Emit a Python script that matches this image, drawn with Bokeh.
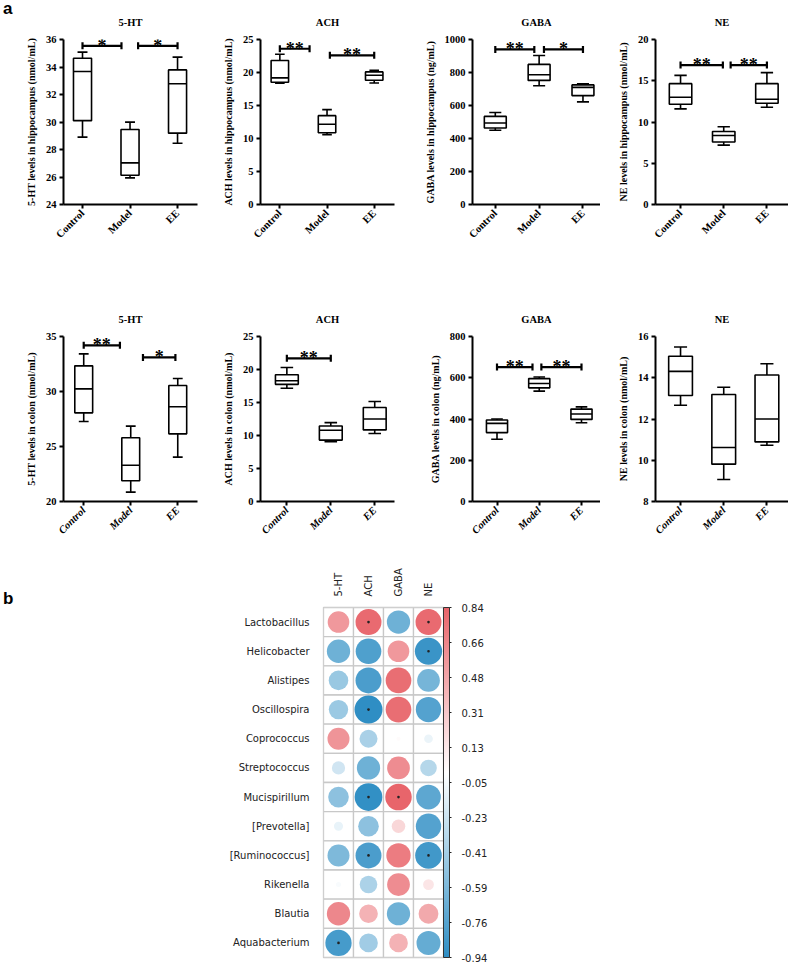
import math
import numpy as np
from bokeh.plotting import figure
from bokeh.models import (Range1d, FixedTicker, ColumnDataSource, FactorRange, Div,
                          LinearColorMapper, ColorBar, CustomJSTickFormatter)
from bokeh.layouts import row, column
from bokeh.core.properties import value
from bokeh.embed import file_html
from bokeh.resources import INLINE

# ---------------- data: box plots (min, q1, median, q3, max) ----------------
groups = ["Control", "Model", "EE"]

hip_5ht = [(28.9, 30.1, 33.67, 34.64, 35.08), (25.94, 26.13, 27.03, 29.45, 29.99), (28.46, 29.19, 32.78, 33.79, 34.72)]
hip_ach = [(18.37, 18.52, 19.18, 21.81, 22.77), (10.58, 10.88, 12.15, 13.46, 14.37), (18.42, 18.83, 19.58, 20.09, 20.34)]
hip_gaba = [(450, 464, 494, 534, 558), (720, 752, 786, 849, 903), (622, 660, 710, 725, 732)]
hip_ne = [(11.59, 12.15, 13.0, 14.65, 15.65), (7.2, 7.57, 8.37, 8.85, 9.42), (11.79, 12.27, 12.76, 14.65, 15.98)]

col_5ht = [(27.27, 28.06, 30.24, 32.33, 33.42), (20.85, 21.88, 23.3, 25.79, 26.85), (24.03, 26.15, 28.61, 30.55, 31.18)]
col_ach = [(17.15, 17.75, 18.3, 19.2, 20.3), (9.05, 9.3, 10.8, 11.45, 11.95), (10.3, 10.85, 12.5, 14.25, 15.15)]
col_gaba = [(302, 334, 379, 395, 400), (535, 551, 572, 596, 604), (382, 398, 424, 448, 459)]
col_ne = [(12.67, 13.14, 14.31, 15.04, 15.49), (9.07, 9.81, 10.62, 13.19, 13.54), (10.73, 10.89, 12.0, 14.13, 14.68)]

# significance brackets: (from group pos, to group pos, level, label)
hip_5ht_sig = [(1, 1.82, 35.54, "*"), (2.17, 3, 35.54, "*")]
hip_ach_sig = [(1, 1.63, 23.6, "**"), (2.06, 3, 22.6, "**")]
hip_gaba_sig = [(1, 1.89, 940, "**"), (2.11, 3, 940, "*")]
hip_ne_sig = [(1, 1.98, 16.9, "**"), (2.16, 3, 16.9, "**")]
col_5ht_sig = [(1, 1.77, 34.2, "**"), (2.26, 2.95, 33.1, "*")]
col_ach_sig = [(1, 2.0, 21.7, "**")]
col_gaba_sig = [(1, 1.84, 652, "**"), (2.05, 3.0, 652, "**")]
col_ne_sig = []

hip_titles = ["5-HT", "ACH", "GABA", "NE"]
hip_ylabels = ["5-HT levels in hippocampus (nmol/mL)", "ACH levels in hippocampus (nmol/mL)",
               "GABA levels in hippocampus (ng/mL)", "NE levels in hippocampus (nmol/mL)"]
col_ylabels = ["5-HT levels in colon (nmol/mL)", "ACH levels in colon (nmol/mL)",
               "GABA levels in colon (ng/mL)", "NE levels in colon (nmol/mL)"]
hip_yranges = [(24, 36), (0, 25), (0, 1000), (0, 20)]
hip_yticks = [[24, 26, 28, 30, 32, 34, 36], [0, 5, 10, 15, 20, 25], [0, 200, 400, 600, 800, 1000], [0, 5, 10, 15, 20]]
col_yranges = [(20, 35), (0, 25), (0, 800), (8, 16)]
col_yticks = [[20, 25, 30, 35], [0, 5, 10, 15, 20, 25], [0, 200, 400, 600, 800], [8, 10, 12, 14, 16]]

# ---------------- data: correlation heat map ----------------
hm_rows = ["Lactobacillus", "Helicobacter", "Alistipes", "Oscillospira", "Coprococcus", "Streptococcus",
           "Mucispirillum", "[Prevotella]", "[Ruminococcus]", "Rikenella", "Blautia", "Aquabacterium"]
hm_cols = ["5-HT", "ACH", "GABA", "NE"]
r_5ht = [0.56, -0.65, -0.46, -0.45, 0.58, -0.21, -0.51, -0.10, -0.58, -0.03, 0.65, -0.83]
r_ach = [0.81, -0.79, -0.81, -0.94, -0.39, -0.65, -0.92, -0.51, -0.81, -0.37, 0.42, -0.42]
r_gaba = [-0.65, 0.56, 0.79, 0.79, 0.02, 0.62, 0.84, 0.22, 0.71, 0.62, -0.65, 0.42]
r_ne = [0.81, -0.89, -0.62, -0.77, -0.09, -0.33, -0.73, -0.77, -0.85, 0.14, 0.47, -0.69]
p_5ht = [0, 0, 0, 0, 0, 0, 0, 0, 0, 0, 0, 1]
p_ach = [1, 0, 0, 1, 0, 0, 1, 0, 1, 0, 0, 0]
p_gaba = [0, 0, 0, 0, 0, 0, 1, 0, 0, 0, 0, 0]
p_ne = [1, 1, 0, 0, 0, 0, 0, 0, 1, 0, 0, 0]
cb_labels = ["-0.94", "-0.76", "-0.59", "-0.41", "-0.23", "-0.05", "0.13", "0.31", "0.48", "0.66", "0.84"]

# ---------------- layout constants ----------------
SERIF = "Liberation Serif"
SANS = "DejaVu Sans"
FH = 165
LETTER_W = 14
TOP_BT, TOP_BB = 39, 96
BOT_BT, BOT_BB = 36, 56
HM_BT, HM_BB = 50, 10
frame_w = [134, 134, 128, 133]
b_left = [49, 55, 55, 55]
b_right = [8, 23, 0, 0]
hip_xr = [(0.6, 3.42), (0.59, 3.43), (0.48, 3.4), (0.42, 3.5)]
col_xr = [(0.57, 3.42), (0.4, 3.45), (0.42, 3.45), (0.42, 3.5)]
hip_bw = [0.38, 0.37, 0.5, 0.52]
col_bw = [0.38, 0.52, 0.5, 0.55]


def box_panel(title, ylabel, stats, sig, yr, yticks, xr, bw, i, bt, bb, italic):
    p = figure(frame_width=frame_w[i], frame_height=FH, x_range=Range1d(*xr), y_range=Range1d(*yr),
               output_backend="svg", toolbar_location=None, title=title,
               min_border_left=b_left[i], min_border_right=b_right[i],
               min_border_top=bt, min_border_bottom=bb)
    xs = [k + 1 for k in range(len(groups))]
    mins = [s[0] for s in stats]
    q1 = [s[1] for s in stats]
    med = [s[2] for s in stats]
    q3 = [s[3] for s in stats]
    mx = [s[4] for s in stats]
    cw = bw * 0.55
    lw = 1.6
    p.segment(x0=xs, y0=q3, x1=xs, y1=mx, line_color="black", line_width=lw)
    p.segment(x0=xs, y0=q1, x1=xs, y1=mins, line_color="black", line_width=lw)
    p.segment(x0=[x - cw / 2 for x in xs], y0=mx, x1=[x + cw / 2 for x in xs], y1=mx, line_color="black", line_width=lw)
    p.segment(x0=[x - cw / 2 for x in xs], y0=mins, x1=[x + cw / 2 for x in xs], y1=mins, line_color="black", line_width=lw)
    p.vbar(x=xs, width=bw, bottom=q1, top=q3, fill_color="white", line_color="black", line_width=lw)
    p.segment(x0=[x - bw / 2 for x in xs], y0=med, x1=[x + bw / 2 for x in xs], y1=med, line_color="black", line_width=lw)
    if sig:
        a = [s[0] for s in sig]
        b = [s[1] for s in sig]
        y = [s[2] for s in sig]
        t = [s[3] for s in sig]
        p.segment(x0=a, y0=y, x1=b, y1=y, line_color="black", line_width=2.2)
        p.scatter(x=a + b, y=y + y, marker="dash", angle=math.pi / 2, size=7, line_color="black", line_width=2.2)
        p.text(x=[(u + v) / 2 for u, v in zip(a, b)], y=y, text=t, text_align="center", text_baseline="alphabetic",
               text_font=value(SERIF), text_font_style="bold", text_font_size="18px", text_color="black")
    for ax in (p.xaxis[0], p.yaxis[0]):
        ax.axis_line_width = 2
        ax.axis_line_color = "black"
        ax.major_tick_line_width = 2
        ax.major_tick_line_color = "black"
        ax.major_tick_in = 0
        ax.major_tick_out = 4
        ax.minor_tick_line_color = None
        ax.major_label_text_font = SERIF
        ax.major_label_text_font_style = "bold"
        ax.major_label_text_font_size = "10.5px"
        ax.major_label_text_color = "black"
        ax.major_label_standoff = 3
    p.xaxis.ticker = FixedTicker(ticks=xs)
    p.xaxis.major_label_overrides = {x: g for x, g in zip(xs, groups)}
    p.xaxis.major_label_orientation = math.pi / 4
    if italic:
        p.xaxis.major_label_text_font_style = "bold italic"
    p.yaxis.ticker = FixedTicker(ticks=yticks)
    p.yaxis.axis_label = ylabel
    p.yaxis.axis_label_text_font = SERIF
    p.yaxis.axis_label_text_font_style = "bold"
    p.yaxis.axis_label_text_font_size = "10px"
    p.yaxis.axis_label_text_color = "black"
    p.yaxis.axis_label_standoff = 6
    p.xgrid.grid_line_color = None
    p.ygrid.grid_line_color = None
    p.outline_line_color = None
    p.title.align = "center"
    p.title.text_font = SERIF
    p.title.text_font_size = "10.5px"
    p.title.text_font_style = "bold"
    p.title.text_color = "black"
    p.title.standoff = 23
    return p


hip_data = [hip_5ht, hip_ach, hip_gaba, hip_ne]
hip_sigs = [hip_5ht_sig, hip_ach_sig, hip_gaba_sig, hip_ne_sig]
col_data = [col_5ht, col_ach, col_gaba, col_ne]
col_sigs = [col_5ht_sig, col_ach_sig, col_gaba_sig, col_ne_sig]

top = [box_panel(hip_titles[i], hip_ylabels[i], hip_data[i], hip_sigs[i], hip_yranges[i], hip_yticks[i],
                 hip_xr[i], hip_bw[i], i, TOP_BT, TOP_BB, False) for i in range(4)]
bot = [box_panel(hip_titles[i], col_ylabels[i], col_data[i], col_sigs[i], col_yranges[i], col_yticks[i],
                 col_xr[i], col_bw[i], i, BOT_BT, BOT_BB, True) for i in range(4)]


def letter_div(txt, h, top_px):
    return Div(text=f'<div style="margin-top:{top_px}px;margin-left:3px;font-family:\'Liberation Sans\';'
                    f'font-size:17px;font-weight:bold;color:black;line-height:17px">{txt}</div>',
               width=LETTER_W, height=h, margin=0)


HM_FW, HM_FH = 120, 350
div_a = letter_div("a", TOP_BT + FH + TOP_BB, 0)
div_gap = Div(text="", width=LETTER_W, height=BOT_BT + FH + BOT_BB, margin=0)
div_b = letter_div("b", HM_BT + HM_FH + HM_BB, 33)

# ---------------- heat map ----------------
all_r = r_5ht + r_ach + r_gaba + r_ne
low, high = min(all_r), max(all_r)
BLUE = (46, 142, 196)
RED = (232, 100, 106)
WHITE = (255, 255, 255)


def mix(c1, c2, t):
    t = max(0.0, min(1.0, t))
    return "#%02x%02x%02x" % tuple(int(round(a + (b - a) * t)) for a, b in zip(c1, c2))


pal = []
for k in range(256):
    v = low + (k + 0.5) / 256 * (high - low)
    pal.append(mix(WHITE, BLUE, -v / (-low)) if v < 0 else mix(WHITE, RED, v / high))
mapper = LinearColorMapper(palette=pal, low=low, high=high)

xs_, ys_, rs_, ss_ = [], [], [], []
for c, rv, pv in zip(hm_cols, [r_5ht, r_ach, r_gaba, r_ne], [p_5ht, p_ach, p_gaba, p_ne]):
    for rn, r, s in zip(hm_rows, rv, pv):
        xs_.append(c)
        ys_.append(rn)
        rs_.append(r)
        ss_.append(s)
maxabs = max(abs(v) for v in all_r)
DMAX = 28
src = ColumnDataSource(dict(x=xs_, y=ys_, r=rs_, size=[DMAX * math.sqrt(abs(v) / maxabs) for v in rs_]))
sig_src = ColumnDataSource(dict(x=[x for x, s in zip(xs_, ss_) if s], y=[y for y, s in zip(ys_, ss_) if s]))

hm = figure(x_range=FactorRange(*hm_cols), y_range=FactorRange(*list(reversed(hm_rows))),
            frame_width=HM_FW, frame_height=HM_FH, x_axis_location="above",
            min_border_left=323 - LETTER_W, min_border_right=55, min_border_top=HM_BT, min_border_bottom=HM_BB,
            output_backend="svg", toolbar_location=None)
hm.rect(x="x", y="y", width=1, height=1, source=src, fill_color="white", line_color="#c8c8c8", line_width=1.3)
hm.scatter(x="x", y="y", size="size", source=src, fill_color={"field": "r", "transform": mapper}, line_color=None)
hm.scatter(x="x", y="y", source=sig_src, size=2.6, fill_color="#222222", line_color=None)
hm.outline_line_color = "#c8c8c8"
hm.outline_line_width = 1.3
hm.xgrid.grid_line_color = None
hm.ygrid.grid_line_color = None
for ax in (hm.xaxis[0], hm.yaxis[0]):
    ax.axis_line_color = None
    ax.major_tick_line_color = None
    ax.minor_tick_line_color = None
    ax.major_label_text_font = SANS
    ax.major_label_text_font_size = "10px"
    ax.major_label_text_color = "#222222"
hm.xaxis.major_label_orientation = math.pi / 2
hm.xaxis.major_label_standoff = 5
hm.yaxis.major_label_standoff = 8

cb_ticks = [float(t) for t in np.linspace(low, high, len(cb_labels))]
fmt = CustomJSTickFormatter(args=dict(labs=cb_labels, tvals=cb_ticks), code="""
let best = 0;
for (let i = 0; i < tvals.length; i++) {
  if (Math.abs(tvals[i] - tick) < Math.abs(tvals[best] - tick)) best = i;
}
return labs[best];
""")
cb = ColorBar(color_mapper=mapper, ticker=FixedTicker(ticks=cb_ticks), formatter=fmt,
              width=6, height=HM_FH, location=(0, 0), padding=0, margin=0, label_standoff=10,
              major_label_text_font=SANS, major_label_text_font_size="10px", major_label_text_color="#222222",
              major_tick_in=0, major_tick_out=2, major_tick_line_color="#222222",
              bar_line_color="#333333", bar_line_width=1,
              background_fill_color=None, border_line_color=None)
hm.add_layout(cb, "right")

layout = column(row(div_a, *top), row(div_gap, *bot), row(div_b, hm))
open("out.html", "w").write(file_html(layout, INLINE))
